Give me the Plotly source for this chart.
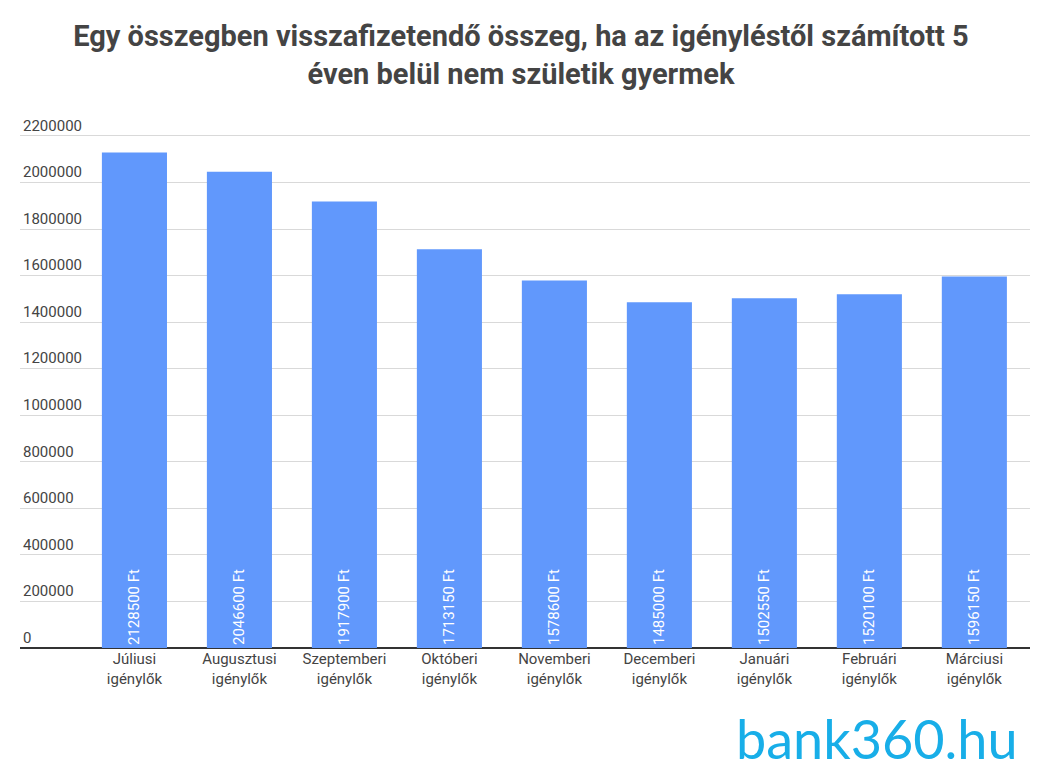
import plotly.graph_objects as go

# data
categories = [
    "Júliusi<br>igénylők", "Augusztusi<br>igénylők", "Szeptemberi<br>igénylők",
    "Októberi<br>igénylők", "Novemberi<br>igénylők", "Decemberi<br>igénylők",
    "Januári<br>igénylők", "Februári<br>igénylők", "Márciusi<br>igénylők",
]
amounts = [2128500, 2046600, 1917900, 1713150, 1578600, 1485000, 1502550, 1520100, 1596150]
bar_labels = [f"{v} Ft" for v in amounts]
y_ticks = list(range(0, 2200001, 200000))

TEXT = "#444444"

fig = go.Figure(go.Bar(
    x=categories,
    y=amounts,
    text=bar_labels,
    textposition="inside",
    insidetextanchor="start",
    textangle=-90,
    textfont=dict(family="Roboto", size=15, color="white"),
    marker=dict(color="#6198fc", line=dict(width=0)),
    hoverinfo="skip",
))

# the page puts the figure 8px in from the top-left corner, margins allow for it;
# the y range runs past 2.2M so the top gridline and its label stay visible
fig.update_layout(
    width=1049,
    height=784,
    margin=dict(l=12, r=27, t=100, b=144),
    paper_bgcolor="white",
    plot_bgcolor="white",
    showlegend=False,
    bargap=0.38,
    font=dict(family="Roboto", color=TEXT),
    title=dict(
        text="<b>Egy összegben visszafizetendő összeg, ha az igényléstől számított 5<br>"
             "éven belül nem születik gyermek</b>",
        x=0.489, xanchor="center", y=0.951, yanchor="top",
        font=dict(family="Roboto", size=29, color=TEXT),
    ),
    xaxis=dict(
        range=[-1.09, 8.53],
        showgrid=False,
        tickfont=dict(size=15, color=TEXT),
        ticks="",
        showline=False,
    ),
    yaxis=dict(
        range=[0, 2320000],
        tickvals=y_ticks,
        ticktext=[str(v) for v in y_ticks],
        ticklabelposition="inside top",
        tickfont=dict(size=15, color=TEXT),
        gridcolor="#d9d9d9",
        gridwidth=1,
        zeroline=True,
        zerolinecolor="#333333",
        zerolinewidth=2,
        showline=False,
    ),
    annotations=[dict(
        text="bank360.hu",
        xref="paper", yref="paper",
        x=0.99, y=-0.168, xanchor="right", yanchor="middle",
        showarrow=False,
        font=dict(family="Lato", size=54, color="#18aee8"),
    )],
)

fig.write_html("out.html")
